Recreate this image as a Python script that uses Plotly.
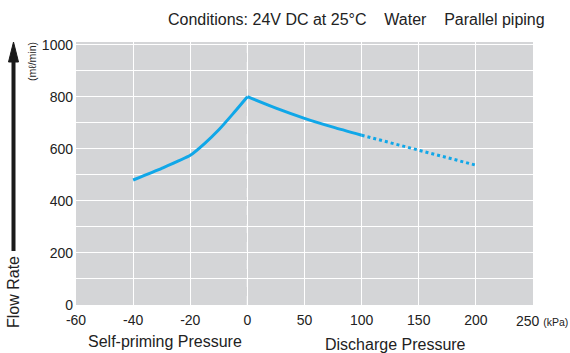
import plotly.graph_objects as go

# ---- data ----
pressure_self = [-40, -30, -20, -15, -10, -5, 0]
flow_self = [480, 525, 575, 620, 673, 735, 800]
pressure_disch = [0, 25, 50, 75, 100]
flow_disch = [800, 756, 717, 683, 652]
pressure_dotted = [100, 150, 200]
flow_dotted = [652, 594, 537]
tick_values_kpa = [-60, -40, -20, 0, 50, 100, 150, 200, 250]
tick_labels = ["-60", "-40", "-20", "0", "50", "100", "150", "200", "250"]
unit_label = "(kPa)"

def to_pos(p):
    # piecewise axis: 20 kPa per division below 0, 50 kPa per division above 0
    return p / 20.0 if p < 0 else p / 50.0

W, H = 570, 353
L, R, T, B = 76, 37, 42, 48
PW, PH = W - L - R, H - T - B

def px(x):
    return (x - L) / PW

def py(y):
    return (H - B - y) / PH

blue = "#10a7e8"
font = "Liberation Sans, Arial, sans-serif"

fig = go.Figure()
fig.add_trace(go.Scatter(x=[to_pos(p) for p in pressure_self], y=flow_self,
                         mode="lines", line=dict(color=blue, width=3, shape="spline", smoothing=0.5),
                         hoverinfo="skip"))
fig.add_trace(go.Scatter(x=[to_pos(p) for p in pressure_disch], y=flow_disch,
                         mode="lines", line=dict(color=blue, width=3, shape="spline", smoothing=0.6),
                         hoverinfo="skip"))
fig.add_trace(go.Scatter(x=[to_pos(p) for p in pressure_dotted], y=flow_dotted,
                         mode="lines", line=dict(color=blue, width=3, dash="dot"),
                         hoverinfo="skip"))

shapes = [
    # dashed zero line
    dict(type="line", xref="x", yref="paper", x0=0, x1=0, y0=0, y1=1,
         line=dict(color="white", width=1.2, dash="dash"), layer="below"),
    # flow rate arrow shaft
    dict(type="line", xref="paper", yref="paper", x0=px(13.5), x1=px(13.5), y0=py(251), y1=py(58),
         line=dict(color="#1a1a1a", width=4)),
    # arrow head
    dict(type="path", xref="paper", yref="paper",
         path=f"M {px(8.5)} {py(62)} L {px(13.5)} {py(42)} L {px(18.5)} {py(62)} Z",
         fillcolor="#1a1a1a", line=dict(color="#1a1a1a", width=1)),
]

annotations = [
    dict(text="Conditions: 24V DC at 25°C    Water    Parallel piping", xref="paper", yref="paper",
         x=px(547), y=py(20), xanchor="right", yanchor="middle", showarrow=False,
         font=dict(family=font, size=16, color="#222")),
    dict(text="Flow Rate", xref="paper", yref="paper", x=px(13), y=py(292), textangle=-90,
         xanchor="center", yanchor="middle", showarrow=False,
         font=dict(family=font, size=16, color="#222")),
    dict(text="(mℓ/min)", xref="paper", yref="paper", x=px(32), y=py(62), textangle=-90,
         xanchor="center", yanchor="middle", showarrow=False,
         font=dict(family=font, size=10.5, color="#222")),
    # last tick label with unit (shifted left like the reference)
    dict(text=f"{tick_labels[-1]} <span style='font-size:10.5px'>{unit_label}</span>",
         xref="paper", yref="paper", x=px(514), y=py(320.5),
         xanchor="left", yanchor="middle", showarrow=False,
         font=dict(family=font, size=14, color="#222")),
    dict(text="Self-priming Pressure", xref="paper", yref="paper", x=px(165), y=py(341),
         xanchor="center", yanchor="middle", showarrow=False,
         font=dict(family=font, size=16, color="#222")),
    dict(text="Discharge Pressure", xref="paper", yref="paper", x=px(395), y=py(344),
         xanchor="center", yanchor="middle", showarrow=False,
         font=dict(family=font, size=16, color="#222")),
]

fig.update_layout(
    width=W, height=H, margin=dict(l=L, r=R, t=T, b=B),
    paper_bgcolor="white", plot_bgcolor="#d4d5d7",
    showlegend=False, shapes=shapes, annotations=annotations,
    font=dict(family=font, size=14, color="#222"),
)
fig.update_xaxes(range=[-3, 5], tickvals=[to_pos(v) for v in tick_values_kpa[:-1]],
                 ticktext=tick_labels[:-1],
                 showgrid=True, gridcolor="white", gridwidth=1.2, zeroline=False,
                 ticks="", showline=False, fixedrange=True, ticklabelstandoff=5,
                 tickfont=dict(family=font, size=14, color="#222"))
fig.update_yaxes(range=[0, 1010], tickvals=[0, 200, 400, 600, 800, 1000],
                 showgrid=True, gridcolor="white", gridwidth=1.2, zeroline=False,
                 minor=dict(tickvals=[100, 300, 500, 700, 900], showgrid=True, gridcolor="white", gridwidth=1.2),
                 ticks="", showline=False, fixedrange=True, ticklabelstandoff=2,
                 tickfont=dict(family=font, size=14, color="#222"))

fig.write_html("out.html")
